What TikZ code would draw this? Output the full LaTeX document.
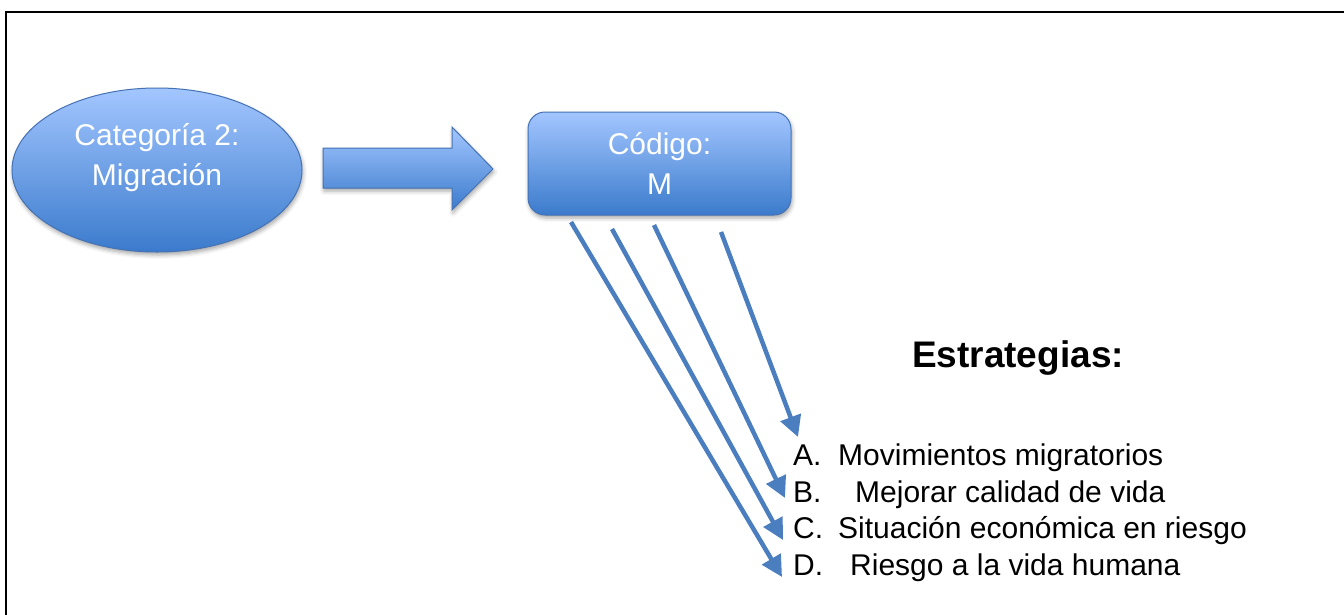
\documentclass[tikz,border=0pt]{standalone}
\usepackage{fontspec}
\setmainfont{Liberation Sans}
\usetikzlibrary{shapes.geometric,arrows.meta,shadows.blur}
\definecolor{topblue}{HTML}{A3C6FF}
\definecolor{botblue}{HTML}{3B7BCC}
\definecolor{edgeblue}{HTML}{4472B4}
\definecolor{arrblue}{HTML}{4A7EBF}
\begin{document}
\begin{tikzpicture}[x=1pt,y=-1pt,
  shadebox/.style={top color=topblue,bottom color=botblue,draw=edgeblue,line width=1pt,
    blur shadow={shadow xshift=1pt,shadow yshift=-3pt,shadow blur radius=4pt,shadow opacity=35}},
  wtxt/.style={text=white,font=\fontsize{30}{40}\selectfont,align=center},
  conn/.style={draw=arrblue,line width=4.5pt,-{Triangle[length=21pt,width=21pt]}},
  item/.style={font=\fontsize{30}{36}\selectfont,anchor=base west,inner sep=0pt}]
\useasboundingbox (0,0) rectangle (1344,614);
\draw[line width=2pt] (6,620) -- (6,12) -- (1350,12);
% ellipse
\node[shadebox,ellipse,minimum width=290pt,minimum height=164pt,inner sep=0pt] (cat) at (157,170) {};
\node[wtxt] (cattext) at ([yshift=12pt]cat.center) {Categoría 2:\\Migración};
% block arrow
\path[shadebox] (323,148) -- (452,148) -- (452,127) -- (493,169) -- (452,210) -- (452,188) -- (323,188) -- cycle;
% code box
\node[shadebox,rectangle,rounded corners=17pt,minimum width=263pt,minimum height=103pt,wtxt] (code) at (659.5,163.5) {Código:\\M};
% title
\node[font=\bfseries\fontsize{37}{44}\selectfont,anchor=base] (est) at (1018,367) {Estrategias:};
% items
\node[item] (la) at (793,465) {A.};
\node[item] (ta) at (838,465) {Movimientos migratorios};
\node[item] (lb) at (793,502) {B.};
\node[item] (tb) at (855,502) {Mejorar calidad de vida};
\node[item] (lc) at (793,538) {C.};
\node[item] (tc) at (838,538) {Situación económica en riesgo};
\node[item] (ld) at (793,575) {D.};
\node[item] (td) at (850,575) {Riesgo a la vida humana};
% connectors
\coordinate (sA) at (721,232); \coordinate (eA) at (798,437);
\coordinate (sB) at (654,225); \coordinate (eB) at (785,498);
\coordinate (sC) at (612,229); \coordinate (eC) at (783,540);
\coordinate (sD) at (571,222); \coordinate (eD) at (782,577);
\draw[conn] (sA) -- (eA);
\draw[conn] (sB) -- (eB);
\draw[conn] (sC) -- (eC);
\draw[conn] (sD) -- (eD);
\end{tikzpicture}
\end{document}
